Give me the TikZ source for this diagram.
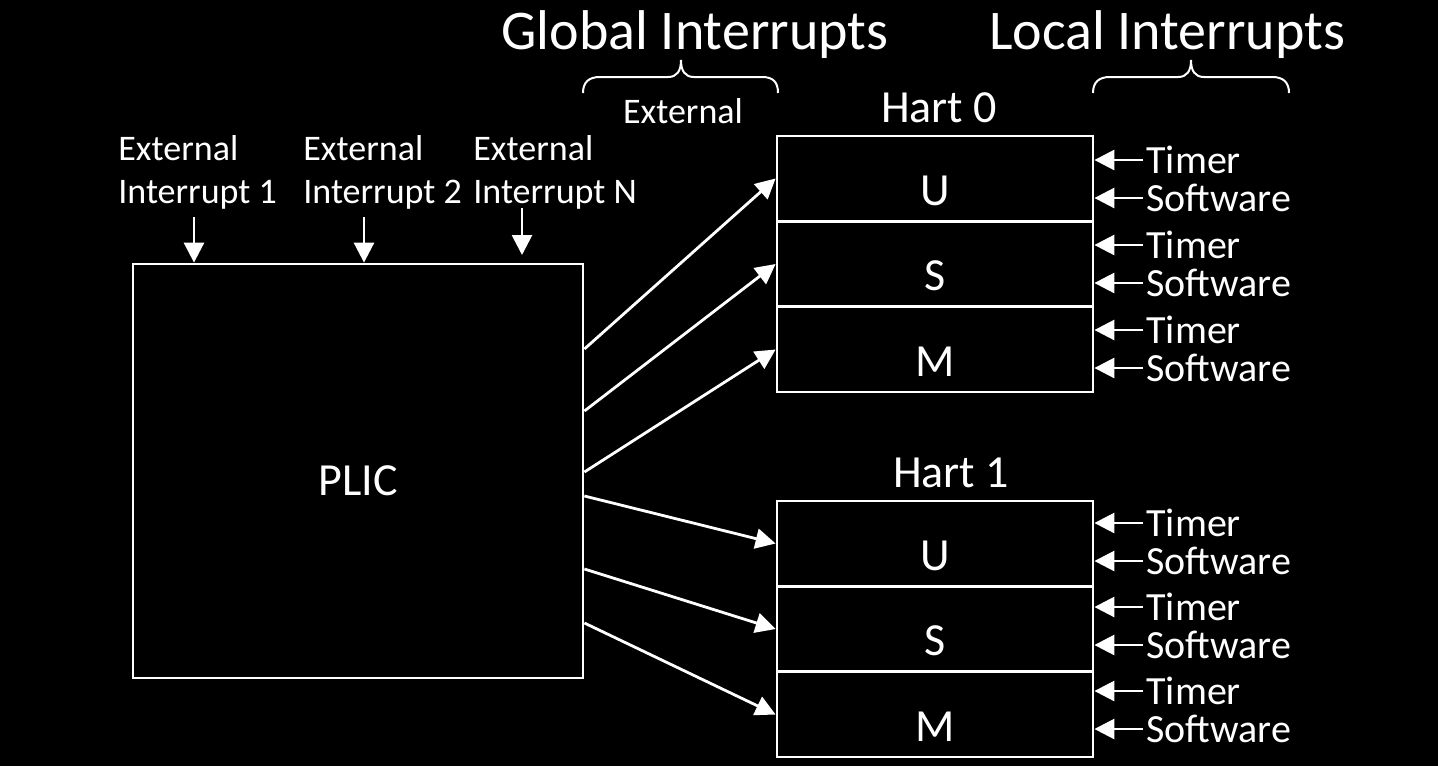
\documentclass[tikz,border=0pt]{standalone}
\usepackage{fontspec}
\setmainfont{Carlito}
\usetikzlibrary{arrows.meta}
\begin{document}
\begin{tikzpicture}[x=0.5pt,y=-0.5pt,line width=1.4pt,
  every node/.style={text=white, inner sep=0pt},
  arr/.style={draw=white, -{Triangle[length=10pt,width=10pt]}},
  part/.style={draw=white, minimum width=158pt, minimum height=42.5pt,
    font=\fontsize{23}{27}\selectfont, text height=26.5pt, text depth=0pt},
  small/.style={font=\fontsize{18}{21.5}\selectfont},
  localtxt/.style={font=\fontsize{20}{24}\selectfont, anchor=west, inner sep=0pt},
  title/.style={font=\fontsize{28}{33}\selectfont, anchor=base},
  bracepath/.style={draw=white, line width=1pt}]

\fill[black] (0,0) rectangle (1438,766);
\useasboundingbox (0,0) rectangle (1438,766);

% PLIC
\node[draw=white, minimum width=225pt, minimum height=207pt,
  font=\fontsize{23}{27}\selectfont, text height=24pt, text depth=0pt] (plic) at (358,471) {PLIC};

% external interrupt labels (base anchor = baseline of last line)
\node[small, anchor=base west, align=left] (e1) at (117,203) {External\\Interrupt 1};
\node[small, anchor=base west, align=left] (e2) at (302,203) {External\\Interrupt 2};
\node[small, anchor=base west, align=left] (eN) at (472,203) {External\\Interrupt N};
\coordinate (a1) at (194,217);
\coordinate (a2) at (364,217);
\coordinate (aN) at (522,208);
\coordinate (bN) at (522,255);
\draw[arr] (a1) -- (a1 |- plic.north);
\draw[arr] (a2) -- (a2 |- plic.north);
\draw[arr] (aN) -- (bN);

% titles and braces
\node[title] (gi) at (695,49) {Global Interrupts};
\node[title] (li) at (1167,49) {Local Interrupts};
\node[small, anchor=base] (ext) at (683,123) {External};
\draw[bracepath] (583,93) .. controls (583,82) and (589,77) .. (600,77) -- (668,77)
  .. controls (677,77) and (681,71) .. (681,60)
  .. controls (681,71) and (685,77) .. (694,77) -- (762,77)
  .. controls (773,77) and (778,82) .. (778,93);
\draw[bracepath] (1093,93) .. controls (1093,82) and (1099,77) .. (1110,77) -- (1178,77)
  .. controls (1187,77) and (1191,71) .. (1191,60)
  .. controls (1191,71) and (1195,77) .. (1204,77) -- (1272,77)
  .. controls (1283,77) and (1289,82) .. (1289,93);

% harts
\node[font=\fontsize{23}{27}\selectfont, anchor=base] (h0) at (939,122) {Hart 0};
\node[part] (u0) at (935,178.5) {U};
\node[part] (s0) at (935,264) {S};
\node[part] (m0) at (935,349.5) {M};

\node[font=\fontsize{23}{27}\selectfont, anchor=base] (h1) at (951,487) {Hart 1};
\node[part] (u1) at (935,543.5) {U};
\node[part] (s1) at (935,629) {S};
\node[part] (m1) at (935,714.5) {M};

% PLIC to harts
\coordinate (o1) at (plic.east |- 0,349);
\coordinate (o2) at (plic.east |- 0,411);
\coordinate (o3) at (plic.east |- 0,472);
\coordinate (o4) at (plic.east |- 0,496);
\coordinate (o5) at (plic.east |- 0,569);
\coordinate (o6) at (plic.east |- 0,623);
\draw[arr] (o1) -- (u0.west);
\draw[arr] (o2) -- (s0.west);
\draw[arr] (o3) -- (m0.west);
\draw[arr] (o4) -- (u1.west);
\draw[arr] (o5) -- (s1.west);
\draw[arr] (o6) -- (m1.west);

% local interrupts
\foreach \b/\ya/\yb in {u0/160/198, s0/245/283, m0/330/368, u1/523/561, s1/607/645, m1/691/729} {
  \node[localtxt] (\b-t) at (1145,\ya) {Timer};
  \node[localtxt] (\b-s) at (1145,\yb) {Software};
  \draw[arr] ([xshift=-1pt]\b-t.west) -- (\b-t.west -| \b.east);
  \draw[arr] ([xshift=-1pt]\b-s.west) -- (\b-s.west -| \b.east);
}
\end{tikzpicture}
\end{document}
